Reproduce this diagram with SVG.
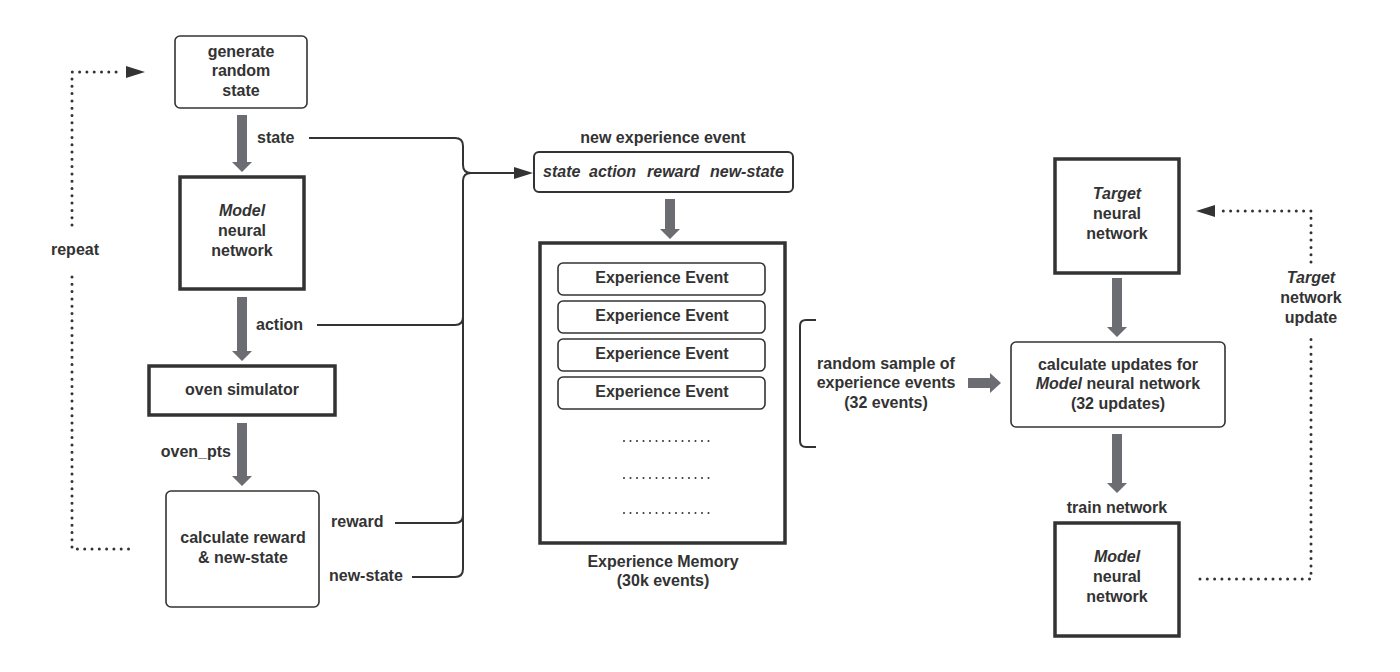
<svg xmlns="http://www.w3.org/2000/svg" width="1400" height="672" viewBox="0 0 1400 672">
<defs>
<style>
text{font-family:"Liberation Sans",Arial,sans-serif;font-size:16px;font-weight:bold;fill:#333;text-anchor:middle}
.it{font-style:italic}
.st{text-anchor:start}
.en{text-anchor:end}
.box{fill:#fff;stroke:#333;stroke-width:1.6}
.thick{fill:#fff;stroke:#333;stroke-width:3.5}
.line{fill:none;stroke:#333;stroke-width:2}
.dots{fill:none;stroke:#333;stroke-width:3;stroke-linecap:round;stroke-dasharray:0 7.3}
.sdots{fill:none;stroke:#333;stroke-width:2;stroke-linecap:round;stroke-dasharray:0 6.5}
.garrow{fill:#6b6d72}
.head{fill:#333}
</style>
</defs>
<rect width="1400" height="672" fill="#fff"/>

<g id="connectors">
<!-- gray block arrows -->
<path class="garrow" d="M237,115 H247 V162 H252 L242,172 L232,162 H237 Z"/>
<path class="garrow" d="M237,297 H247 V351 H252 L242,361 L232,351 H237 Z"/>
<path class="garrow" d="M237,423 H247 V476 H252 L242,486 L232,476 H237 Z"/>
<path class="garrow" d="M665,199 H675 V229 H680 L670,239 L660,229 H665 Z"/>
<path class="garrow" d="M1112,278 H1122 V327 H1127 L1117,337 L1107,327 H1112 Z"/>
<path class="garrow" d="M1112,434 H1122 V483 H1127 L1117,493 L1107,483 H1112 Z"/>
<path class="garrow" d="M968,378 H990 V373 L1001,383 L990,393 V388 H968 Z"/>
<!-- brace connector -->
<path class="line" d="M309,138 H455 Q463,138 463,146 V165 Q463,173 471,173 H520"/>
<path class="line" d="M412,577 H455 Q463,577 463,569 V181 Q463,173 471,173"/>
<path class="line" d="M317,325 H455 Q463,325 463,317"/>
<path class="line" d="M395,523 H455 Q463,523 463,515"/>
<polygon class="head" points="514,167 533,173 514,179"/>
<!-- repeat loop -->
<path class="dots" d="M72,225 V72 H120"/>
<polygon class="head" points="126,66 145,72 126,78"/>
<path class="dots" d="M72,277 V549 H131"/>
<!-- target update loop -->
<path class="dots" d="M1311,262 V211 H1222"/>
<polygon class="head" points="1215,205 1196,211 1215,217"/>
<path class="dots" d="M1200,579 H1311 V335"/>
<!-- sample bracket -->
<path class="line" d="M816,320 H806 Q800,320 800,326 V441 Q800,447 806,447 H816"/>
</g>

<g id="label-repeat"><text x="75" y="254.5">repeat</text></g>
<g id="label-state"><text class="st" x="257" y="142.5">state</text></g>
<g id="label-action"><text class="st" x="256" y="329.5">action</text></g>
<g id="label-oven-pts"><text class="en" x="231" y="456.5">oven_pts</text></g>
<g id="label-reward"><text class="st" x="331" y="526.5">reward</text></g>
<g id="label-new-state"><text class="st" x="329" y="580.5">new-state</text></g>

<g id="node-generate">
<rect class="box" x="175" y="36" width="132" height="72" rx="5"/>
<text x="241" y="56.5">generate</text>
<text x="241" y="76">random</text>
<text x="241" y="95.5">state</text>
</g>

<g id="node-model-left">
<rect class="thick" x="180" y="177" width="124" height="112"/>
<text class="it" x="242" y="215.5">Model</text>
<text x="242" y="235.5">neural</text>
<text x="242" y="255.5">network</text>
</g>

<g id="node-oven">
<rect class="thick" x="149" y="366" width="186" height="49"/>
<text x="242" y="394.5">oven simulator</text>
</g>

<g id="node-calc-reward">
<rect class="box" x="166" y="491" width="153" height="116" rx="5"/>
<text x="243" y="542.5">calculate reward</text>
<text x="243" y="562.5">&amp; new-state</text>
</g>

<g id="node-new-experience">
<text x="663" y="142.5">new experience event</text>
<rect class="box" x="534" y="152" width="259" height="40" rx="5" style="stroke-width:2"/>
<text class="it st" y="176.5"><tspan x="543">state</tspan><tspan x="589">action</tspan><tspan x="647">reward</tspan><tspan x="710">new-state</tspan></text>
</g>

<g id="node-memory">
<rect class="thick" x="540" y="243" width="245" height="300"/>
<rect class="box" x="558" y="263" width="207" height="32" rx="5"/>
<text x="662" y="282.5">Experience Event</text>
<rect class="box" x="558" y="301" width="207" height="32" rx="5"/>
<text x="662" y="320.5">Experience Event</text>
<rect class="box" x="558" y="339" width="207" height="32" rx="5"/>
<text x="662" y="358.5">Experience Event</text>
<rect class="box" x="558" y="377" width="207" height="32" rx="5"/>
<text x="662" y="396.5">Experience Event</text>
<path class="sdots" d="M624,441 H715 M624,478 H715 M624,513 H715"/>
<text x="663" y="566.5">Experience Memory</text>
<text x="663" y="585.5">(30k events)</text>
</g>

<g id="label-sample">
<text x="886" y="368.5">random sample of</text>
<text x="886" y="387.5">experience events</text>
<text x="886" y="407.5">(32 events)</text>
</g>

<g id="node-target">
<rect class="thick" x="1055" y="159" width="124" height="114"/>
<text class="it" x="1117" y="198.5">Target</text>
<text x="1117" y="218.5">neural</text>
<text x="1117" y="238.5">network</text>
</g>

<g id="label-target-update">
<text class="it" x="1311" y="282.5">Target</text>
<text x="1311" y="302.5">network</text>
<text x="1311" y="322.5">update</text>
</g>

<g id="node-calc-updates">
<rect class="box" x="1011" y="342" width="214" height="85" rx="5"/>
<text x="1118" y="369.5">calculate updates for</text>
<text x="1118" y="388.5"><tspan font-style="italic">Model</tspan> neural network</text>
<text x="1118" y="408.5">(32 updates)</text>
</g>

<g id="label-train"><text x="1117" y="512.5">train network</text></g>

<g id="node-model-right">
<rect class="thick" x="1055" y="523" width="124" height="113"/>
<text class="it" x="1117" y="561.5">Model</text>
<text x="1117" y="581.5">neural</text>
<text x="1117" y="601.5">network</text>
</g>
</svg>
